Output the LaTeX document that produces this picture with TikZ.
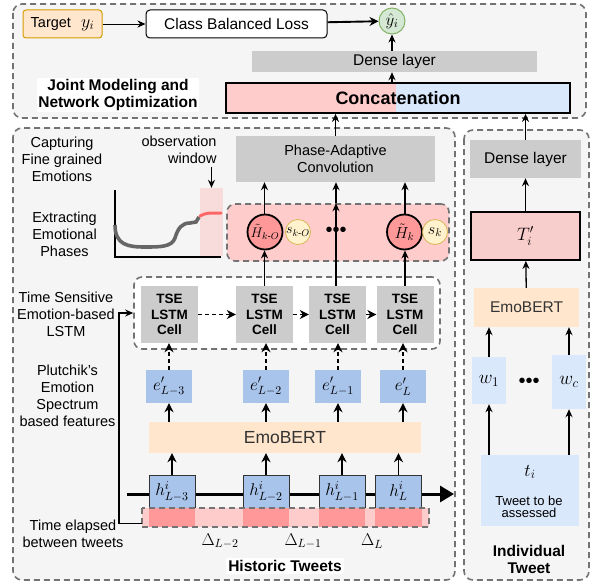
\RequirePackage{fix-cm}
\documentclass[tikz,border=0pt]{standalone}
\usepackage{fontspec}
\setmainfont{Liberation Sans}
\usepackage{amsmath}
\usetikzlibrary{arrows.meta, positioning}
\definecolor{bgray}{HTML}{F5F5F5}
\definecolor{dgray}{HTML}{737373}
\definecolor{lgray}{HTML}{CCCCCC}
\definecolor{orfill}{HTML}{FFE6CC}
\definecolor{ordraw}{HTML}{D79B00}
\definecolor{grfill}{HTML}{D5E8D4}
\definecolor{grdraw}{HTML}{82B366}
\definecolor{pkfill}{HTML}{FFCCCC}
\definecolor{pkdark}{HTML}{FF9999}
\definecolor{blfill}{HTML}{DAE8FC}
\definecolor{bldark}{HTML}{A9C4EB}
\definecolor{yefill}{HTML}{FFF2CC}
\definecolor{yedraw}{HTML}{D6B656}
\definecolor{obsfill}{HTML}{F8DCDC}
\definecolor{tifill}{HTML}{F8CECC}
\definecolor{curvegray}{HTML}{666666}
\definecolor{curvered}{HTML}{FF6666}

\begin{document}
\begin{tikzpicture}[
      x=1pt, y=-1pt,
      font=\fontsize{14.5}{17}\selectfont,
      region/.style={draw=dgray, fill=bgray, line width=1.6pt,
                     dash pattern=on 6pt off 4pt, rounded corners=9pt},
      frame/.style={draw=dgray, line width=1.6pt, dash pattern=on 6pt off 4pt,
                    inner sep=0pt},
      gbox/.style={fill=lgray, inner sep=0pt, align=center},
      cell/.style={fill=lgray, minimum width=57pt, minimum height=57pt,
                   inner sep=0pt, align=center,
                   font=\fontsize{13.5}{15.5}\selectfont\bfseries},
      ebox/.style={fill=bldark, minimum width=46pt, minimum height=33pt,
                   inner sep=0pt, font=\fontsize{17}{19}\selectfont},
      hbox/.style={ebox, draw=black!80, line width=0.9pt},
      hcirc/.style={circle, fill=pkdark, draw=black, line width=1.8pt,
                    minimum size=35pt, inner sep=0pt},
      scirc/.style={circle, fill=yefill, draw=yedraw, line width=0.8pt,
                    minimum size=25pt, inner sep=0pt},
      wbox/.style={fill=blfill, minimum width=34pt, inner sep=0pt,
                   font=\fontsize{19}{21}\selectfont},
      lbl/.style={align=center},
      bold/.style={align=center, font=\fontsize{15.5}{17}\selectfont\bfseries},
      mth/.style={font=\fontsize{17}{19}\selectfont},
      arr/.style={-{Stealth[length=8pt,width=7pt]}, line width=1.3pt},
      tarr/.style={-{Stealth[length=9pt,width=9pt]}, line width=1.9pt},
      darr/.style={tarr, dash pattern=on 4pt off 3pt},
    ]
    \useasboundingbox (0,0) rectangle (593,586);

    % regions
    \draw[region] (13,4) rectangle (586,118);
    \draw[region] (13,128) rectangle (455,580);
    \draw[region] (464,130) rectangle (589,580);

    % joint modeling
    \node[fill=orfill, draw=ordraw, line width=1pt, rounded corners=3pt,
          minimum width=79pt, minimum height=28pt] (tgt) at (62.5,24)
      {Target\hspace{10pt}{\fontsize{18}{20}\selectfont$y_i$}};
    \node[draw, fill=white, line width=1pt, rounded corners=4pt,
          minimum width=181pt, minimum height=28pt,
          font=\fontsize{15.5}{17}\selectfont] (cbl) at (236.5,24)
      {Class Balanced Loss};
    \node[circle, fill=grfill, draw=grdraw, line width=1pt, minimum size=26pt,
          inner sep=0pt, font=\fontsize{17}{19}\selectfont] (yhat) at (392,21)
      {$\hat{y}_i$};
    \draw[arr, line width=0.9pt] (tgt) -- (cbl);
    \draw[tarr] (cbl) -- (yhat);

    \node[gbox, minimum width=285pt, minimum height=21pt,
          font=\fontsize{15.5}{17}\selectfont] (dense) at (394.5,61.5)
      {Dense layer};
    \fill[pkfill] (226,83) rectangle (396,113);
    \fill[blfill] (396,83) rectangle (570,113);
    \node[draw, line width=1.8pt, minimum width=344pt, minimum height=30pt,
          font=\fontsize{18}{20}\selectfont\bfseries] (concat) at (398,98)
      {Concatenation};
    \draw[arr] (concat.north -| yhat) -- (dense.south -| yhat);
    \draw[arr] (dense.north -| yhat) -- (yhat);
    \node[bold, fill=white, inner sep=1pt] (joint) at (118,95)
      {Joint Modeling and\\Network Optimization};

    % phases
    \node[gbox, minimum width=199pt, minimum height=46pt] (pac) at (335.5,159)
      {Phase-Adaptive\\Convolution};
    \node[frame, fill=pkfill, rounded corners=8pt, minimum width=222pt,
          minimum height=57pt] (phases) at (338,232.5) {};
    \node[hcirc, font=\fontsize{14}{16}\selectfont] (hko) at (265,232)
      {$\tilde{H}_{k\text{-}O}$};
    \node[scirc, font=\fontsize{14}{16}\selectfont] (sko) at (298,232)
      {$s_{k\text{-}O}$};
    \node[font=\fontsize{20}{20}\selectfont] (pdots) at (336,232) {•••};
    \node[hcirc, font=\fontsize{16}{18}\selectfont] (hk) at (404.5,232)
      {$\tilde{H}_k$};
    \node[scirc, font=\fontsize{16}{18}\selectfont] (sk) at (435,232) {$s_k$};

    % observation plot
    \node[fill=obsfill, minimum width=23pt, minimum height=68pt,
          inner sep=0pt] (obswin) at (211.5,222) {};
    \draw[line width=1.8pt] (115,190) |- (221,257);
    \draw[curvegray, line width=3.6pt] (115,225)
      .. controls (115,245) and (128,247) .. (145,247)
      .. controls (160,247) and (172,247) .. (175,238)
      .. controls (178,228) and (182,223) .. (190,223)
      -- (196,222) -- (199,217);
    \draw[curvered, line width=3pt, line cap=round] (200,216)
      .. controls (206,213) .. (221,213);
    \node[lbl, align=right] (obs) at (179,150) {observation\\window};
    \draw[arr] (obs.south -| obswin) -- (obswin.north);

    % TSE LSTM
    \node[frame, fill=white, rounded corners=8pt, minimum width=306pt,
          minimum height=72pt] (tse) at (287,313) {};
    \node[cell] (c1) at (169.5,314.5) {TSE\\LSTM\\Cell};
    \node[cell] (c2) at (264.5,314.5) {TSE\\LSTM\\Cell};
    \node[cell] (c3) at (337.5,314.5) {TSE\\LSTM\\Cell};
    \node[cell] (c4) at (405,314.5) {TSE\\LSTM\\Cell};
    \draw[darr, line width=1.3pt] (c1) -- (c2);
    \draw[darr, line width=1.3pt] (c2) -- (c3);
    \draw[darr, line width=1.3pt] (c3) -- (c4);

    \draw[arr] (c2.north) -- (c2.north |- hko.south);
    \draw[arr] (hko.north -| c2) -- (pac.south -| c2);
    \draw[arr] (c3.north -| pdots) -- (phases.north -| pdots);
    \draw[arr] (phases.north -| pdots) -- (pac.south -| pdots);
    \draw[arr] (c4.north) -- (c4.north |- hk.south);
    \draw[arr] (hk.north -| c4) -- (pac.south -| c4);
    \draw[arr] (pac.north) -- (pac.north |- concat.south);

    % emotion features
    \node[ebox] (e1) at (169,386.5) {$e'_{L-3}$};
    \node[ebox] (e2) at (266,386.5) {$e'_{L-2}$};
    \node[ebox] (e3) at (338,386.5) {$e'_{L-1}$};
    \node[ebox] (e4) at (403,386.5) {$e'_{L}$};
    \foreach \i in {1,...,4}
      \draw[darr] (e\i.north) -- (e\i.north |- c\i.south);

    \node[fill=orfill, minimum width=272pt, minimum height=31pt, text=black!80,
          font=\fontsize{17.5}{19}\selectfont] (emob) at (285,437.5) {EmoBERT};
    \foreach \i in {1,...,4}
      \draw[tarr] (emob.north -| e\i) -- (e\i.south);

    % historic tweets
    \coordinate (tl0) at (127,494);
    \coordinate (tl1) at (454,494);
    \draw[line width=3pt, -{Triangle[length=14pt,width=16pt]}] (tl0) -- (tl1);
    \node[hbox] (h1) at (172,491.5) {$h^i_{L-3}$};
    \node[hbox] (h2) at (266,491.5) {$h^i_{L-2}$};
    \node[hbox] (h3) at (342,491.5) {$h^i_{L-1}$};
    \node[hbox] (h4) at (398.5,491.5) {$h^i_{L}$};
    \foreach \i in {1,...,4}
      \draw[tarr] (h\i.north) -- (h\i.north |- emob.south);

    \node[fill=pkfill, minimum width=287pt, minimum height=19pt,
          inner sep=0pt] (strip) at (285.5,517.5) {};
    \foreach \i in {1,...,4}
      \fill[pkdark] (h\i.west |- strip.north) rectangle (h\i.east |- strip.south);
    \draw[frame] (strip.north west) rectangle (strip.south east);
    \draw[arr, line width=1.6pt] ([yshift=-6pt]strip.west) -- ++(-23,0) |- (tse.west);

    \node[mth] (d2) at (220,541) {$\Delta_{L-2}$};
    \node[mth] (d3) at (303,541) {$\Delta_{L-1}$};
    \node[mth] (d4) at (372,541) {$\Delta_{L}$};

    % left labels
    \node[lbl] (capt) at (62,159) {Capturing\\Fine grained\\Emotions};
    \node[lbl] (extr) at (64.5,234) {Extracting\\Emotional\\Phases};
    \node[lbl] (tsel) at (66,314) {Time Sensitive\\Emotion-based\\LSTM};
    \node[lbl] (plut) at (67.5,395.5) {Plutchik's\\Emotion\\Spectrum\\based features};
    \node[lbl] (elap) at (73,533.5) {Time elapsed\\between tweets};
    \node[bold, fill=white, inner sep=2pt] (hist) at (285,566) {Historic Tweets};

    % individual tweet
    \node[gbox, minimum width=111pt, minimum height=38pt,
          font=\fontsize{15.5}{17}\selectfont] (dense2) at (525.5,159) {Dense layer};
    \node[draw, line width=1.8pt, fill=tifill, minimum width=109pt,
          minimum height=48pt, font=\fontsize{18}{20}\selectfont] (ti) at (525.5,236)
      {$T'_i$};
    \node[fill=orfill, minimum width=105pt, minimum height=39pt, text=black!80,
          font=\fontsize{15.5}{17}\selectfont] (emob2) at (526.5,307.5) {EmoBERT};
    \node[wbox, minimum height=47pt] (w1) at (489,380.5) {$w_1$};
    \node[wbox, minimum height=54pt] (wc) at (569,382) {$w_c$};
    \node[font=\fontsize{20}{20}\selectfont] (wdots) at (529,383) {•••};
    \node[fill=blfill, minimum width=98pt, minimum height=71pt] (tw) at (530,490.5) {};
    \node[font=\fontsize{18}{20}\selectfont] (tlab) at (530,472) {$t_i$};
    \node[lbl, font=\fontsize{13}{12}\selectfont] (tdesc) at (529,507)
      {Tweet to be\\assessed};
    \node[bold] (indiv) at (529,559) {Individual\\Tweet};

    \draw[arr] (tw.north -| w1) -- (w1.south);
    \draw[arr] (tw.north -| wc) -- (wc.south);
    \draw[arr] (w1.north) -- (w1.north |- emob2.south);
    \draw[arr] (wc.north) -- (wc.north |- emob2.south);
    \draw[arr] (emob2) -- (ti);
    \draw[arr] (ti) -- (dense2);
    \draw[arr] (dense2.north) -- (dense2.north |- concat.south);
  \end{tikzpicture}
\end{document}
